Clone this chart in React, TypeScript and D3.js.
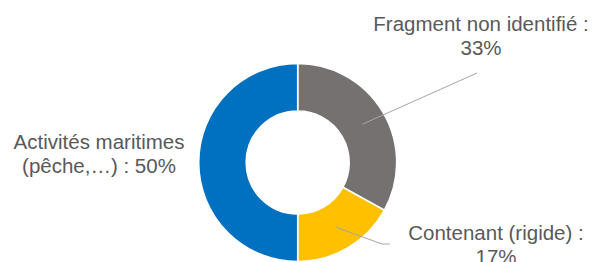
import { useEffect, useRef } from "react";
import * as d3 from "d3";

// Slice data (order as drawn, clockwise from 12 o'clock)
const categories = ["Fragment non identifié", "Contenant (rigide)", "Activités maritimes (pêche,…)"];
const values = [33, 17, 50];
const colors = ["#767171", "#FFC000", "#0070C0"];

// Label text lines for each slice
const labelLines = [
  ["Fragment non identifié :", "33%"],
  ["Contenant (rigide) :", "17%"],
  ["Activités maritimes", "(pêche,…) : 50%"],
];

const W = 592;
const H = 262;

export default function App() {
  const svgRef = useRef<SVGSVGElement | null>(null);

  useEffect(() => {
    if (!svgRef.current) return;
    const svg = d3.select(svgRef.current);
    svg.selectAll("*").remove();

    const cx = 297.7;
    const cy = 162.5;
    const outerR = 99;
    const innerR = 51.5;

    const pie = d3.pie<number>().sort(null).value((d) => d);
    const arcs = pie(values);
    const arc = d3.arc<d3.PieArcDatum<number>>().innerRadius(innerR).outerRadius(outerR);
    const mid = d3.arc<d3.PieArcDatum<number>>().innerRadius((innerR + outerR) / 2).outerRadius((innerR + outerR) / 2);

    const g = svg.append("g").attr("transform", `translate(${cx},${cy})`);

    g.selectAll("path.slice")
      .data(arcs)
      .enter()
      .append("path")
      .attr("class", "slice")
      .attr("d", arc)
      .attr("fill", (_d, i) => colors[i])
      .attr("stroke", "#ffffff")
      .attr("stroke-width", 1.6);

    // label placement (layout only)
    const labelPos = [
      { x: 481, y: 31 },
      { x: 496, y: 240 },
      { x: 99, y: 149 },
    ];
    // leader line bends (absolute), null = no leader
    const leaders: ([number, number][] | null)[] = [
      [[477, 73]],
      [[382, 244], [390, 244]],
      null,
    ];

    arcs.forEach((a, i) => {
      const pts = leaders[i];
      if (!pts) return;
      const [mx, my] = mid.centroid(a);
      const line = d3.line();
      svg
        .append("path")
        .attr("d", line([[cx + mx, cy + my], ...pts]))
        .attr("fill", "none")
        .attr("stroke", "#A6A6A6")
        .attr("stroke-width", 1);
    });

    labelLines.forEach((lines, i) => {
      const t = svg
        .append("text")
        .attr("x", labelPos[i].x)
        .attr("y", labelPos[i].y)
        .attr("text-anchor", "middle")
        .attr("fill", "#595959")
        .style("font-family", "'Liberation Sans', Arial, sans-serif")
        .style("font-size", "20.5px");
      lines.forEach((ln, j) => {
        t.append("tspan")
          .attr("x", labelPos[i].x)
          .attr("dy", j === 0 ? 0 : 23.5)
          .text(ln);
      });
    });
  }, []);

  return (
    <svg
      ref={svgRef}
      width={W}
      height={H}
      style={{ position: "absolute", left: 0, top: 0, background: "#ffffff" }}
      aria-label={categories.join(", ")}
    />
  );
}
